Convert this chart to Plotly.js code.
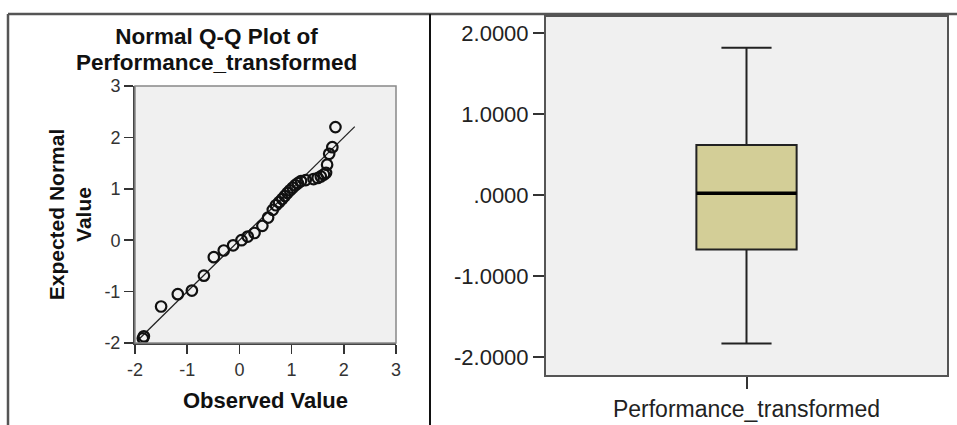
<!DOCTYPE html>
<html>
<head>
<meta charset="utf-8">
<script src="https://cdn.plot.ly/plotly-3.0.1.min.js"></script>
<style>html,body{margin:0;padding:0;background:#fff;}#chart{width:957px;height:425px;}</style>
</head>
<body>
<div id="chart"></div>
<script>
// ---- Q-Q plot data ----
var observedValues = [-1.85, -1.83, -1.50, -1.18, -0.91, -0.68, -0.49, -0.30, -0.12, 0.04, 0.16, 0.29, 0.44, 0.55, 0.64, 0.70, 0.76, 0.82, 0.87, 0.92, 0.97, 1.02, 1.07, 1.12, 1.18, 1.27, 1.42, 1.50, 1.56, 1.62, 1.66, 1.68, 1.72, 1.78, 1.84];
var expectedNormal = [-1.91, -1.87, -1.29, -1.05, -0.98, -0.69, -0.33, -0.20, -0.10, 0.00, 0.07, 0.14, 0.28, 0.44, 0.59, 0.68, 0.74, 0.80, 0.86, 0.92, 0.97, 1.02, 1.07, 1.11, 1.15, 1.17, 1.19, 1.21, 1.24, 1.28, 1.31, 1.47, 1.68, 1.81, 2.20];
var refLine = [-1.95, 2.21];
var qqTicks = [-2, -1, 0, 1, 2, 3];
var qqTickText = ['-2', '-1', '0', '1', '2', '3'];
var qqTitleLines = ['Normal Q-Q Plot of', 'Performance_transformed'];

// ---- Box plot data ----
var boxCategory = ['Performance_transformed'];
var boxLowerFence = [-1.83];
var boxQ1 = [-0.67];
var boxMedian = [0.025];
var boxQ3 = [0.62];
var boxUpperFence = [1.82];
var boxTickVals = [2, 1, 0, -1, -2];
var boxTickText = ['2.0000', '1.0000', '.0000', '-1.0000', '-2.0000'];

var FONT = 'Liberation Sans, Arial, sans-serif';
var boxWidth = 0.25;

var traces = [
  {
    type: 'scatter', mode: 'lines', x: refLine, y: refLine,
    xaxis: 'x', yaxis: 'y', line: {color: '#222', width: 1.3}, hoverinfo: 'skip'
  },
  {
    type: 'scatter', mode: 'markers', x: observedValues, y: expectedNormal,
    xaxis: 'x', yaxis: 'y',
    marker: {symbol: 'circle-open', size: 10.5, color: '#111', line: {width: 2.2, color: '#111'}}
  },
  {
    type: 'box', x: [0], q1: boxQ1, median: boxMedian, q3: boxQ3,
    lowerfence: boxLowerFence, upperfence: boxUpperFence,
    xaxis: 'x2', yaxis: 'y2', width: boxWidth, whiskerwidth: 0.5,
    fillcolor: '#d3ce97', line: {color: '#222', width: 2}, boxpoints: false,
    name: boxCategory[0]
  },
  {
    type: 'scatter', mode: 'lines', x: [-boxWidth / 2, boxWidth / 2], y: [boxMedian[0], boxMedian[0]],
    xaxis: 'x2', yaxis: 'y2', line: {color: '#000', width: 3.5}, hoverinfo: 'skip'
  }
];

var titleFont = {family: FONT, size: 22.5, color: '#111', weight: 'bold'};

var layout = {
  width: 957, height: 425,
  margin: {l: 0, r: 0, t: 0, b: 0},
  paper_bgcolor: '#fff', plot_bgcolor: '#f0f0f0',
  showlegend: false,
  font: {family: FONT, color: '#222'},
  title: {
    text: qqTitleLines[0],
    font: titleFont,
    xref: 'paper', x: 216.5 / 957, xanchor: 'center',
    yref: 'container', y: 1 - 36 / 425, yanchor: 'middle'
  },
  annotations: [
    {text: qqTitleLines[1], font: titleFont, showarrow: false, borderpad: 0,
     xref: 'paper', yref: 'paper', x: 216.5 / 957, y: 1 - 63 / 425, xanchor: 'center', yanchor: 'middle'}
  ],
  xaxis: {
    domain: [135 / 957, 396 / 957], range: [-2, 3],
    tickvals: qqTicks, ticktext: qqTickText, ticks: 'outside', ticklen: 9, tickwidth: 1.5, tickcolor: '#333',
    tickfont: {size: 18, color: '#333'},
    showgrid: false, zeroline: false, showline: true, linecolor: '#444', linewidth: 2,
    title: {text: 'Observed Value', font: {size: 22, color: '#111', weight: 'bold'}, standoff: 14}
  },
  yaxis: {
    domain: [1 - 343 / 425, 1 - 86 / 425], range: [-2, 3],
    tickvals: qqTicks, ticktext: qqTickText, ticks: 'outside', ticklen: 9, tickwidth: 1.5, tickcolor: '#333',
    tickfont: {size: 18, color: '#333'},
    showgrid: false, zeroline: false, showline: true, linecolor: '#444', linewidth: 2,
    title: {text: 'Expected Normal<br>Value', font: {size: 21, color: '#111', weight: 'bold'}, standoff: 7}
  },
  xaxis2: {
    domain: [546 / 957, 947 / 957], range: [-0.5, 0.5], anchor: 'y2',
    tickvals: [0], ticktext: boxCategory, ticks: 'outside', ticklen: 12, tickwidth: 2, tickcolor: '#333',
    tickfont: {size: 23, color: '#222'},
    showgrid: false, zeroline: false, showline: true, mirror: true, linecolor: '#555', linewidth: 2
  },
  yaxis2: {
    domain: [1 - 375 / 425, 1 - 17 / 425], range: [-2.22, 2.2], anchor: 'x2',
    tickvals: boxTickVals, ticktext: boxTickText, ticks: 'outside', ticklen: 11, tickwidth: 2, tickcolor: '#333',
    tickfont: {size: 22, color: '#222'},
    showgrid: false, zeroline: false, showline: true, mirror: true, linecolor: '#555', linewidth: 2
  },
  shapes: [
    {type: 'rect', xref: 'x domain', yref: 'y domain', x0: 0, x1: 1, y0: 0, y1: 1, line: {color: '#888', width: 1.5}, layer: 'above'},
    {type: 'line', xref: 'paper', yref: 'paper', x0: 8 / 957, x1: 1, y0: 1 - 14 / 425, y1: 1 - 14 / 425, line: {color: '#555', width: 2.5}},
    {type: 'line', xref: 'paper', yref: 'paper', x0: 8 / 957, x1: 8 / 957, y0: 0, y1: 1 - 14 / 425, line: {color: '#555', width: 2.5}},
    {type: 'line', xref: 'paper', yref: 'paper', x0: 430 / 957, x1: 430 / 957, y0: 0, y1: 1 - 14 / 425, line: {color: '#111', width: 2}}
  ]
};

Plotly.newPlot('chart', traces, layout, {displayModeBar: false, staticPlot: true});
</script>
</body>
</html>
